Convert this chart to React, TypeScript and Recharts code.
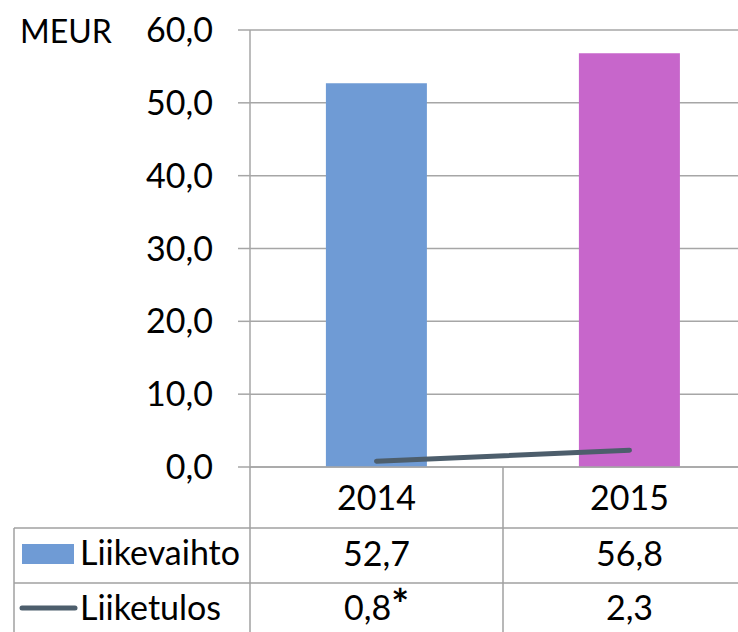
import React from 'react';
import { ComposedChart, Bar, Line, XAxis, YAxis, CartesianGrid, Cell } from 'recharts';

// Values
const years = ['2014', '2015'];
const revenue = [52.7, 56.8]; // Liikevaihto
const operatingResult = [0.8, 2.3]; // Liiketulos
const resultNotes = ['*', ''];
const yTicks = [0, 10, 20, 30, 40, 50, 60];
const barColors = ['#6f9bd5', '#c766cb'];

const unitLabel = 'MEUR';
const revenueLabel = 'Liikevaihto';
const resultLabel = 'Liiketulos';

const lineColor = '#4d5e6c';
const gridColor = '#a6a6a6';
const tableColor = '#a0a0a0';
const font = 'Lato, "Open Sans", sans-serif';

const fmt = (v: number) => v.toFixed(1).replace('.', ',');

const chartData = years.map((year, i) => ({
  year,
  revenue: revenue[i],
  result: operatingResult[i],
}));

// The category axis tick draws the whole data table column for its year
const TableTick = ({ x, payload, index }: any) => (
  <g fontFamily={font} fontSize={34} fill="#000" textAnchor="middle">
    <text x={x} y={510}>{payload.value}</text>
    <text x={x} y={566}>{fmt(revenue[index])}</text>
    <text x={x} y={620}>
      {fmt(operatingResult[index])}
      {resultNotes[index] && (
        <tspan fontSize={42} fontWeight={700}>{resultNotes[index]}</tspan>
      )}
    </text>
  </g>
);

export default function App() {
  return (
    <div
      style={{
        position: 'absolute',
        left: 0,
        top: 0,
        width: 738,
        height: 632,
        overflow: 'hidden',
        background: '#fff',
      }}
    >
      <ComposedChart
        width={756}
        height={632}
        data={chartData}
        margin={{ top: 30, right: 0, left: 0, bottom: 0 }}
        barCategoryGap="30%"
      >
        <CartesianGrid horizontal vertical={false} stroke={gridColor} strokeWidth={1.5} />
        <XAxis
          dataKey="year"
          height={165}
          axisLine={{ stroke: gridColor, strokeWidth: 1.5 }}
          tickLine={false}
          tick={<TableTick />}
          interval={0}
        />
        <YAxis
          width={250}
          domain={[0, 60]}
          ticks={yTicks}
          tickFormatter={fmt}
          tickSize={12}
          tickMargin={25}
          axisLine={{ stroke: gridColor, strokeWidth: 1.5 }}
          tickLine={{ stroke: gridColor, strokeWidth: 1.5 }}
          tick={{ fontSize: 34, fill: '#000', fontFamily: font }}
        />
        <Bar dataKey="revenue" isAnimationActive={false}>
          {chartData.map((_, i) => (
            <Cell key={i} fill={barColors[i]} />
          ))}
        </Bar>
        <Line
          dataKey="result"
          stroke={lineColor}
          strokeWidth={5}
          strokeLinecap="round"
          dot={false}
          activeDot={false}
          isAnimationActive={false}
        />
      </ComposedChart>

      {/* unit label, table grid and legend keys */}
      <svg
        width={738}
        height={632}
        style={{ position: 'absolute', left: 0, top: 0, pointerEvents: 'none' }}
      >
        <text x={20} y={43} fontFamily={font} fontSize={32} fill="#000">{unitLabel}</text>
        <g stroke={tableColor} strokeWidth={1.5}>
          <line x1={14} y1={528} x2={738} y2={528} />
          <line x1={14} y1={583} x2={738} y2={583} />
          <line x1={14} y1={528} x2={14} y2={632} />
          <line x1={250} y1={467} x2={250} y2={632} />
          <line x1={503} y1={467} x2={503} y2={632} />
        </g>
        <rect x={22} y={544} width={52} height={20} fill={barColors[0]} />
        <line x1={22} y1={608} x2={75} y2={608} stroke={lineColor} strokeWidth={5} strokeLinecap="round" />
        <g fontFamily={font} fontSize={34} fill="#000">
          <text x={80} y={565}>{revenueLabel}</text>
          <text x={80} y={620}>{resultLabel}</text>
        </g>
      </svg>
    </div>
  );
}
